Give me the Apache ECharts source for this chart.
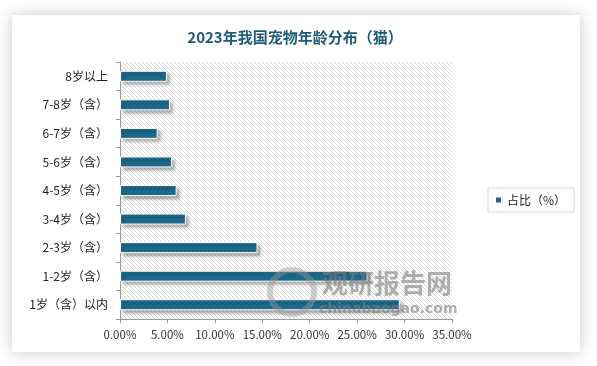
<!DOCTYPE html>
<html><head><meta charset="utf-8">
<script src="https://cdn.jsdelivr.net/npm/echarts@6/dist/echarts.min.js"></script>
<style>html,body{margin:0;padding:0;background:#fff}#c{width:597px;height:366px}</style>
</head><body><div id="c"></div>
<script>
const categories = ['1岁（含）以内','1-2岁（含）','2-3岁（含）','3-4岁（含）','4-5岁（含）','5-6岁（含）','6-7岁（含）','7-8岁（含）','8岁以上'];
const values = [29.5, 26.1, 14.5, 6.95, 5.97, 5.48, 3.97, 5.27, 4.95];
const seriesName = '占比（%）';
const titleText = '2023年我国宠物年龄分布（猫）';

const pc = document.createElement('canvas');
pc.width = 4; pc.height = 4;
const pctx = pc.getContext('2d');
pctx.fillStyle = '#fff'; pctx.fillRect(0,0,4,4);
pctx.fillStyle = '#d9d9d9';
for (let i = 0; i < 4; i++) pctx.fillRect(i, i, 1, 1);

const chart = echarts.init(document.getElementById('c'), null, {renderer: 'canvas'});
chart.setOption({
  animation: false,
  backgroundColor: '#fff',
  graphic: [
    {type: 'rect', z: -10, shape: {x: 12, y: 15, width: 568, height: 337},
     style: {fill: '#fff', shadowBlur: 14, shadowColor: 'rgba(0,0,0,0.22)', shadowOffsetX: 0, shadowOffsetY: 0}},
    {type: 'circle', z: 100, shape: {cx: 292, cy: 292, r: 22},
     style: {fill: 'none', stroke: 'rgba(150,150,150,0.45)', lineWidth: 6}},
    {type: 'text', z: 100, left: 322, top: 270, style: {text: '观研报告网', fill: 'rgba(125,125,125,0.6)', font: 'bold 26px "Noto Sans CJK SC"'}},
    {type: 'text', z: 100, left: 319, top: 302, style: {text: 'chinabaogao.com', fill: 'rgba(125,125,125,0.6)', font: 'bold 14px "DejaVu Sans"'}}
  ],
  title: {
    text: titleText, left: 290, top: 25, textAlign: 'center',
    textStyle: {fontFamily: '"Noto Sans CJK SC"', fontSize: 15, fontWeight: 'bold', color: '#1f5b78'}
  },
  legend: {
    data: [seriesName], left: 488, top: 188, orient: 'vertical',
    itemWidth: 7, itemHeight: 7, itemGap: 5, padding: [6, 8, 6, 6],
    borderColor: '#d9d9d9', borderWidth: 1, borderRadius: 0,
    icon: 'rect',
    textStyle: {fontFamily: '"Noto Sans CJK SC"', fontSize: 12, color: '#222'}
  },
  grid: {
    left: 120, right: 145, top: 62, bottom: 47, show: true,
    backgroundColor: {image: pc, repeat: 'repeat'}, borderWidth: 0
  },
  xAxis: {
    type: 'value', min: 0, max: 35, interval: 5,
    axisLine: {show: true, lineStyle: {color: '#999'}},
    axisTick: {show: true, length: 4, lineStyle: {color: '#999'}},
    splitLine: {show: false},
    axisLabel: {formatter: v => v.toFixed(2) + '%', color: '#333', fontSize: 11.5, fontFamily: '"Noto Sans CJK SC"', margin: 10}
  },
  yAxis: {
    type: 'category', data: categories,
    axisLine: {show: true, lineStyle: {color: '#999'}},
    axisTick: {show: true, length: 4, lineStyle: {color: '#999'}},
    axisLabel: {color: '#222', fontSize: 12, fontFamily: '"Noto Sans CJK SC"', margin: 12}
  },
  series: [{
    name: seriesName, type: 'bar', data: values, barWidth: 11,
    itemStyle: {color: '#1e6a8c', borderColor: '#fff', borderWidth: 1,
      shadowColor: 'rgba(0,0,0,0.35)', shadowBlur: 3, shadowOffsetX: 3, shadowOffsetY: 3}
  }]
});
</script></body></html>
